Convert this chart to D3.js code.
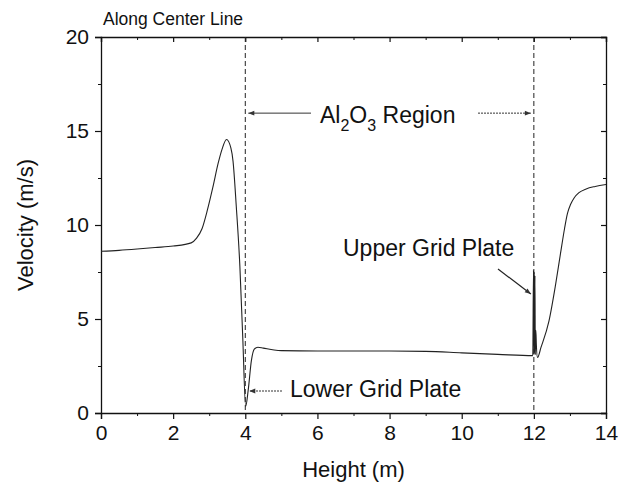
<!DOCTYPE html>
<html><head><meta charset="utf-8">
<script src="https://cdn.jsdelivr.net/npm/d3@7"></script>
<style>body{margin:0;background:#fff}svg{display:block}text{font-family:"Liberation Sans",Arial,sans-serif;fill:#111}</style>
</head><body>
<script>
const heights = [0,0.5,1,1.5,2,2.5,2.65,2.8,2.95,3.1,3.25,3.35,3.48,3.6,3.66,3.75,3.85,3.93,4.01,4.08,4.17,4.25,4.35,4.5,4.8,5,6,7,8,9,10,11,11.97,11.99,12.0,12.01,12.02,12.03,12.04,12.055,12.07,12.1,12.2,12.42,12.6,12.74,12.85,12.93,13.02,13.12,13.25,13.45,13.7,14];
const velocities = [8.6,8.65,8.72,8.8,8.88,9.05,9.3,9.8,10.8,12.0,13.3,14.0,14.55,14.1,13.4,11.0,7.8,4.0,0.35,1.2,2.8,3.4,3.5,3.45,3.35,3.32,3.3,3.3,3.3,3.28,3.2,3.12,3.05,7.6,3.1,7.5,3.2,7.3,3.1,4.4,3.6,2.95,3.5,4.9,6.8,8.5,9.8,10.6,11.1,11.45,11.72,11.92,12.05,12.15];
const xTicks = [0,2,4,6,8,10,12,14];
const yTicks = [0,5,10,15,20];
const plateHeights = [4,12];

const W=620,H=486;
const m={l:101,r:14,t:37,b:73};
const svg=d3.select("body").append("svg").attr("width",W).attr("height",H);
const x=d3.scaleLinear().domain([0,14]).range([m.l,W-m.r]);
const y=d3.scaleLinear().domain([0,20]).range([H-m.b,m.t]);

const defs=svg.append("defs");
defs.append("marker").attr("id","ah").attr("viewBox","0 0 10 10").attr("refX",10).attr("refY",5)
 .attr("markerWidth",8).attr("markerHeight",6).attr("markerUnits","userSpaceOnUse").attr("orient","auto")
 .append("path").attr("d","M0,1L10,5L0,9Z").attr("fill","#333");

function styleAxis(g){g.select(".domain").attr("stroke","#111").attr("stroke-width",1.3);
 g.selectAll(".tick line").attr("stroke","#111").attr("stroke-width",1.2);
 g.selectAll("text").style("font-size","21px").style("font-family","'Liberation Sans',Arial,sans-serif").attr("fill","#111");}

const xMinor=d3.range(1,14,2), yMinor=[2.5,7.5,12.5,17.5];
const gb=svg.append("g").attr("transform",`translate(0,${y(0)})`).call(d3.axisBottom(x).tickValues(xTicks).tickSize(6).tickPadding(6));
styleAxis(gb);
svg.append("g").attr("transform",`translate(0,${y(0)})`).call(d3.axisBottom(x).tickValues(xMinor).tickSize(3).tickFormat("")).call(g=>{g.select(".domain").remove();g.selectAll("line").attr("stroke","#111");});
const gl=svg.append("g").attr("transform",`translate(${x(0)},0)`).call(d3.axisLeft(y).tickValues(yTicks).tickSize(6).tickPadding(6));
styleAxis(gl);
svg.append("g").attr("transform",`translate(${x(0)},0)`).call(d3.axisLeft(y).tickValues(yMinor).tickSize(3).tickFormat("")).call(g=>{g.select(".domain").remove();g.selectAll("line").attr("stroke","#111");});
const gt=svg.append("g").attr("transform",`translate(0,${y(20)})`).call(d3.axisBottom(x).tickValues(xTicks).tickSize(5).tickFormat(""));
styleAxis(gt);
svg.append("g").attr("transform",`translate(0,${y(20)})`).call(d3.axisBottom(x).tickValues(xMinor).tickSize(3).tickFormat("")).call(g=>{g.select(".domain").remove();g.selectAll("line").attr("stroke","#111");});
const gr=svg.append("g").attr("transform",`translate(${x(14)},0)`).call(d3.axisLeft(y).tickValues(yTicks).tickSize(5).tickFormat(""));
styleAxis(gr);
svg.append("g").attr("transform",`translate(${x(14)},0)`).call(d3.axisLeft(y).tickValues(yMinor).tickSize(3).tickFormat("")).call(g=>{g.select(".domain").remove();g.selectAll("line").attr("stroke","#111");});

svg.selectAll(".plate").data(plateHeights).enter().append("line")
 .attr("x1",d=>x(d)).attr("x2",d=>x(d)).attr("y1",y(20)).attr("y2",y(0))
 .attr("stroke","#222").attr("stroke-width",1).attr("stroke-dasharray","5,3");

const pts=heights.map((h,i)=>[h,velocities[i]]);
svg.append("path").datum(pts).attr("fill","none").attr("stroke","#222").attr("stroke-width",1.1)
 .attr("d",d3.line().x(d=>x(d[0])).y(d=>y(d[1])).curve(d3.curveMonotoneX));

svg.append("text").attr("x",(x(0)+x(14))/2).attr("y",477).attr("text-anchor","middle").style("font-size","22px").text("Height (m)");
svg.append("text").attr("transform",`translate(33,${(y(0)+y(20))/2}) rotate(-90)`).attr("text-anchor","middle").style("font-size","22px").text("Velocity (m/s)");
svg.append("text").attr("x",103).attr("y",25).style("font-size","17.5px").text("Along Center Line");

const t1=svg.append("text").attr("x",320).attr("y",123).style("font-size","23px");
t1.append("tspan").text("Al");
t1.append("tspan").attr("dy",8).style("font-size","16px").text("2");
t1.append("tspan").attr("dy",-8).text("O");
t1.append("tspan").attr("dy",8).style("font-size","16px").text("3");
t1.append("tspan").attr("dy",-8).text(" Region");
svg.append("line").attr("x1",311).attr("y1",y(15.95)).attr("x2",x(4)+3).attr("y2",y(15.95)).attr("stroke","#333").attr("stroke-width",1).attr("marker-end","url(#ah)");
svg.append("line").attr("x1",478).attr("y1",y(15.95)).attr("x2",x(12)-3).attr("y2",y(15.95)).attr("stroke","#333").attr("stroke-width",1).attr("stroke-dasharray","2,1").attr("marker-end","url(#ah)");
svg.append("text").attr("x",343).attr("y",256).style("font-size","23px").text("Upper Grid Plate");
svg.append("line").attr("x1",498).attr("y1",269).attr("x2",x(12)-3).attr("y2",294).attr("stroke","#222").attr("stroke-width",1.2).attr("marker-end","url(#ah)");
svg.append("text").attr("x",290).attr("y",397).style("font-size","23px").text("Lower Grid Plate");
svg.append("line").attr("x1",282).attr("y1",391).attr("x2",x(4)+4).attr("y2",391).attr("stroke","#333").attr("stroke-width",1).attr("stroke-dasharray","2,1").attr("marker-end","url(#ah)");
</script>
</body></html>
